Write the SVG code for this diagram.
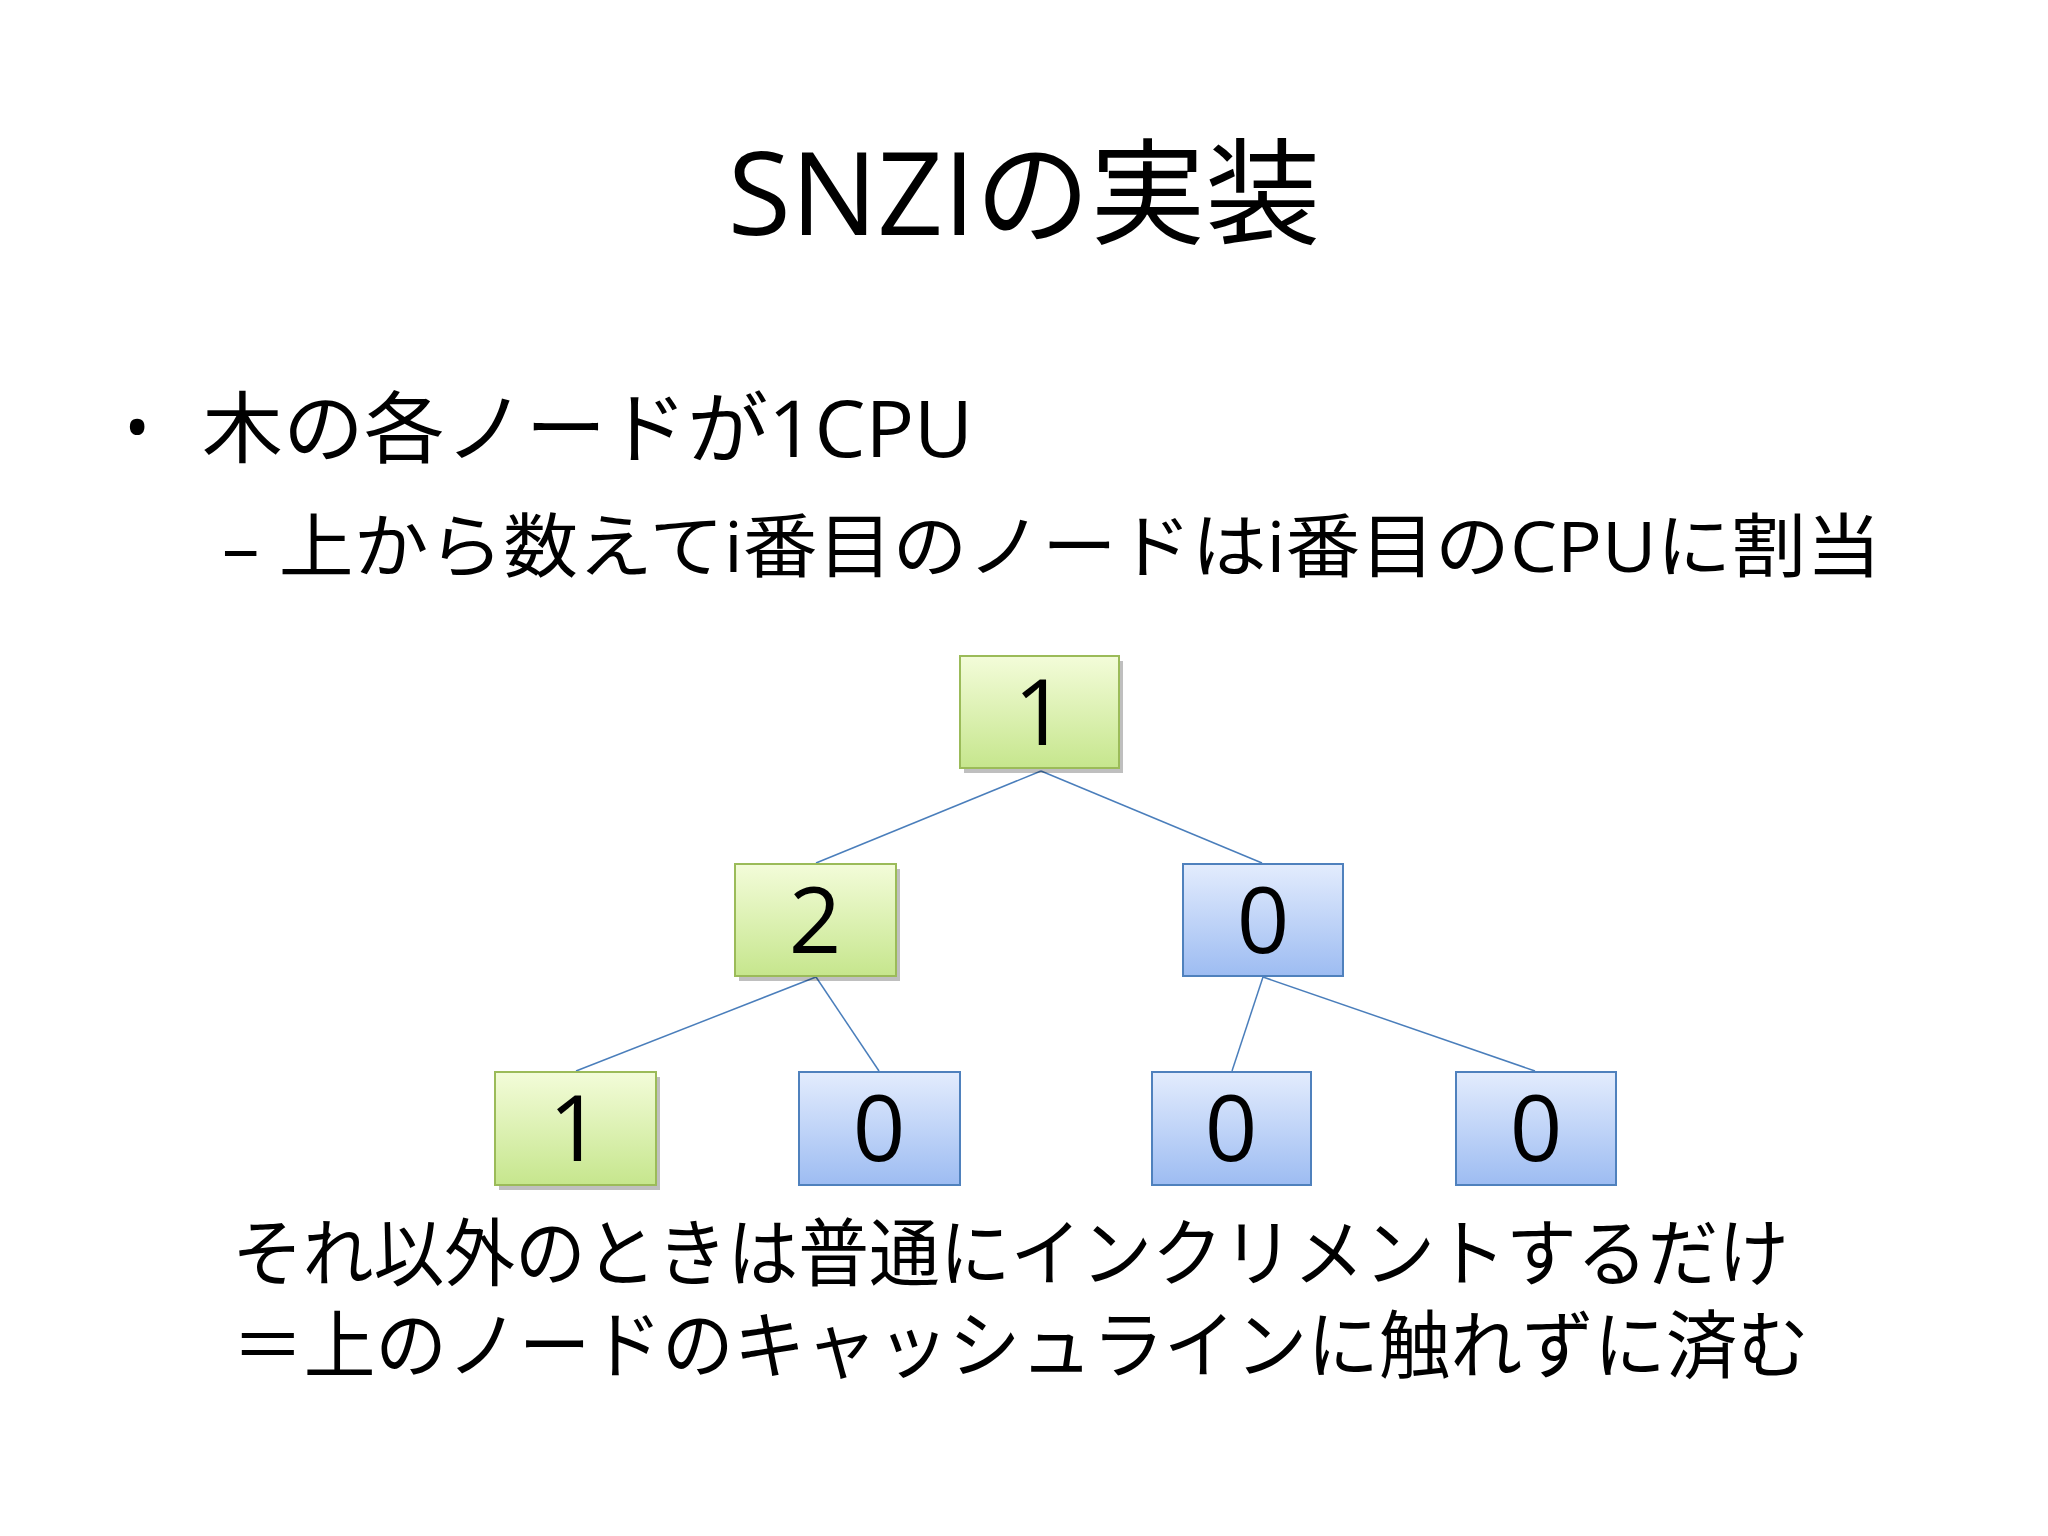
<svg xmlns="http://www.w3.org/2000/svg" width="2048" height="1536" viewBox="0 0 2048 1536">
<style>
.t{font-family:"Open Sans","Noto Sans CJK JP",sans-serif;fill:#000}
.n{font-family:"Open Sans","Liberation Sans",sans-serif;font-size:92px;text-anchor:middle;fill:#000}
.g{fill:url(#gg);stroke:#9bbb59;stroke-width:2}
.b{fill:url(#bg);stroke:#4f81bd;stroke-width:2}
.sh{fill:#000;opacity:0.25}
#edges line{stroke:#4a7ebb;stroke-width:1.5}
</style>
<defs>
<linearGradient id="gg" x1="0" y1="0" x2="0" y2="1"><stop offset="0" stop-color="#f3fcd9"/><stop offset="1" stop-color="#c6e68d"/></linearGradient>
<linearGradient id="bg" x1="0" y1="0" x2="0" y2="1"><stop offset="0" stop-color="#e3ecfd"/><stop offset="1" stop-color="#9dbcf2"/></linearGradient>
</defs>
<rect width="2048" height="1536" fill="#fff"/>
<text class="t" x="1024" y="235" font-size="115" text-anchor="middle">SNZIの実装</text>
<text class="t" x="124" y="452" font-size="70">•</text>
<text class="t" x="202" y="457" font-size="78" textLength="771" lengthAdjust="spacingAndGlyphs">木の各ノードが1CPU</text>
<text class="t" x="222" y="572" font-size="70" textLength="1659" lengthAdjust="spacingAndGlyphs">– 上から数えてi番目のノードはi番目のCPUに割当</text>
<g id="edges">
<line x1="1041" y1="771" x2="816" y2="863"/>
<line x1="1041" y1="771" x2="1262" y2="863"/>
<line x1="816" y1="977" x2="576" y2="1071"/>
<line x1="816" y1="977" x2="879" y2="1071"/>
<line x1="1263" y1="977" x2="1232" y2="1071"/>
<line x1="1263" y1="977" x2="1535" y2="1071"/>
</g>
<g id="n1"><rect class="sh" x="964" y="661" width="159" height="112"/><rect class="g" x="960" y="656" width="159" height="112"/><text class="n" x="1040" y="745">1</text></g>
<g id="n2"><rect class="sh" x="739" y="869" width="161" height="112"/><rect class="g" x="735" y="864" width="161" height="112"/><text class="n" x="815" y="953">2</text></g>
<g id="n3"><rect class="b" x="1183" y="864" width="160" height="112"/><text class="n" x="1263" y="953">0</text></g>
<g id="n4"><rect class="sh" x="499" y="1077" width="161" height="113"/><rect class="g" x="495" y="1072" width="161" height="113"/><text class="n" x="575" y="1161">1</text></g>
<g id="n5"><rect class="b" x="799" y="1072" width="161" height="113"/><text class="n" x="879" y="1161">0</text></g>
<g id="n6"><rect class="b" x="1152" y="1072" width="159" height="113"/><text class="n" x="1231" y="1161">0</text></g>
<g id="n7"><rect class="b" x="1456" y="1072" width="160" height="113"/><text class="n" x="1536" y="1161">0</text></g>
<text class="t" x="232" y="1280" font-size="74" textLength="1557" lengthAdjust="spacingAndGlyphs">それ以外のときは普通にインクリメントするだけ</text>
<text class="t" x="232" y="1372" font-size="74" textLength="1577" lengthAdjust="spacingAndGlyphs">＝上のノードのキャッシュラインに触れずに済む</text>
</svg>
